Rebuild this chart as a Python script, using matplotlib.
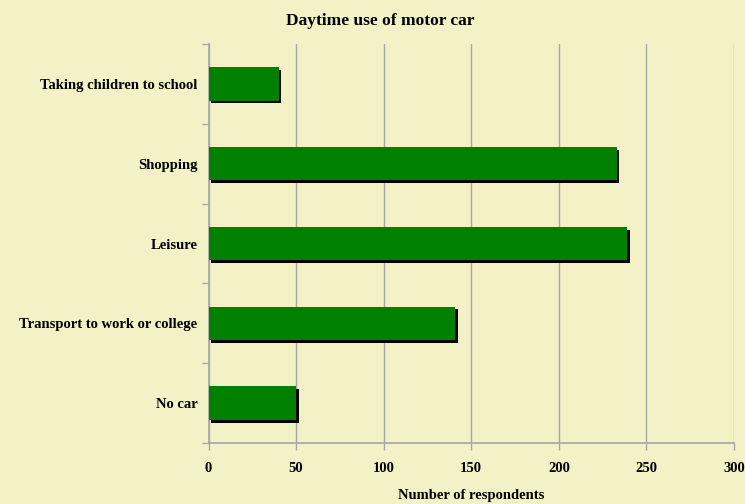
import matplotlib.pyplot as plt
import matplotlib.patheffects as pe
import numpy as np

categories = ['No car', 'Transport to work or college', 'Leisure', 'Shopping', 'Taking children to school']
respondents = [50, 141, 239, 233, 40]
x_ticks = [0, 50, 100, 150, 200, 250, 300]

bg = '#F2F2C6'
grid_col = '#A6A6A6'

plt.rcParams['font.family'] = ['Liberation Serif', 'DejaVu Serif']
plt.rcParams['font.weight'] = 'bold'

fig = plt.figure(figsize=(7.45, 5.04), dpi=100, facecolor=bg)
ax = fig.add_axes([0.2799, 0.121, 0.7053, 0.7917], facecolor=bg)

y = np.arange(len(categories))
ax.barh(y, respondents, height=0.42, color='#008000', zorder=3,
        path_effects=[pe.SimplePatchShadow(offset=(2, -2), shadow_rgbFace='black', alpha=1.0), pe.Normal()])

ax.set_xlim(0, 300)
ax.set_ylim(-0.5, len(categories) - 0.5)
ax.set_xticks(x_ticks)
ax.set_xticklabels([str(t) for t in x_ticks], fontsize=10.5, fontweight='bold')
ax.set_yticks(y)
ax.set_yticklabels(categories, fontsize=10.5, fontweight='bold')
ax.set_yticks(np.arange(-0.5, len(categories), 1.0), minor=True)
ax.tick_params(axis='y', which='major', length=0, pad=8)
ax.tick_params(axis='y', which='minor', length=5, color=grid_col, width=1)
ax.tick_params(axis='x', length=5, color=grid_col, width=1, pad=9)

ax.grid(axis='x', color=grid_col, linewidth=1, zorder=0)
for s in ['top', 'right']:
    ax.spines[s].set_visible(False)
for s in ['left', 'bottom']:
    ax.spines[s].set_color(grid_col)
    ax.spines[s].set_linewidth(1.2)

ax.set_xlabel('Number of respondents', fontsize=10.5, fontweight='bold', labelpad=10)
fig.suptitle('Daytime use of motor car', fontsize=12.5, fontweight='bold', x=0.51, y=0.975)

plt.savefig('out.png', dpi=100, facecolor=bg)
